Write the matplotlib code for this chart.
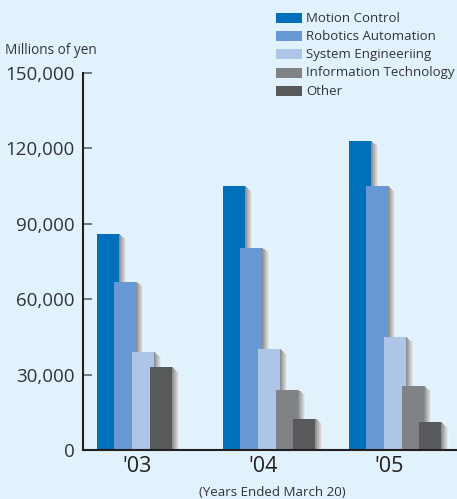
import numpy as np
import matplotlib
matplotlib.use("Agg")
import matplotlib.pyplot as plt
from matplotlib.colors import to_rgb

plt.rcParams['font.family'] = ['Open Sans', 'DejaVu Sans']

years = ["'03", "'04", "'05"]
segments = ["Motion Control", "Robotics Automation", "System Engineeriing",
            "Information Technology", "Other"]
motion_control = [86000, 105000, 123000]
robotics_automation = [67000, 80500, 105000]
system_engineering = [39000, 40000, 45000]
information_technology = [np.nan, 24000, 25500]
other = [33000, 12500, 11000]
series = [motion_control, robotics_automation, system_engineering,
          information_technology, other]
colors = ["#0070bb", "#6699d3", "#adc6e8", "#808285", "#58595b"]

yticks = [0, 30000, 60000, 90000, 120000, 150000]
bg = "#e1f2fc"
text_col = "#333335"

W, H = 457, 499
fig = plt.figure(figsize=(W / 100, H / 100), dpi=100, facecolor=bg)
ax_l, ax_b, ax_t = 83, 450, 73
ax = fig.add_axes([ax_l / W, (H - ax_b) / H, (W - ax_l) / W, (ax_b - ax_t) / H])
ax.set_facecolor(bg)

px_per_group = 126.0
xmin = -(137 - ax_l) / px_per_group
xmax = 2 + (W - 389) / px_per_group
ax.set_xlim(xmin, xmax)
ax.set_ylim(0, 150000)

gx = 1 / px_per_group           # one pixel in x data units
gy = 150000 / (ax_b - ax_t)     # one pixel in y data units
bar_w = 22 * gx
step = 17.7 * gx
first_off = -40.5 * gx

shadow_dark = np.array(to_rgb("#8d8e90"))
shadow_light = np.array(to_rgb("#eef3f5"))
n_strips = 8

for g in range(len(years)):
    slot = 0
    for s, vals in enumerate(series):
        v = vals[g]
        if np.isnan(v):
            continue
        left = g + first_off + slot * step
        # soft shadow on the right side of each bar
        for k in range(n_strips):
            t = k / (n_strips - 1)
            c = shadow_dark * (1 - t) + shadow_light * t
            drop = min(k, 5) * 0.9 * gy
            ax.bar(left + bar_w + k * gx, v - drop, width=gx * 1.05,
                   align='edge', color=c, linewidth=0, zorder=2 + slot)
        ax.bar(left, v, width=bar_w, align='edge', color=colors[s],
               linewidth=0, zorder=2.5 + slot)
        slot += 1

ax.set_xticks(range(len(years)))
ax.set_xticklabels(years, fontsize=15.5, color="#231f20")
ax.tick_params(axis='x', length=0, pad=4)
ax.set_yticks(yticks)
ax.set_yticklabels([f"{v:,}" for v in yticks], fontsize=13.5, color=text_col)
ax.tick_params(axis='y', direction='in', length=6.5, width=1.1,
               color="#555555", pad=6)

for side in ('top', 'right'):
    ax.spines[side].set_visible(False)
for side in ('left', 'bottom'):
    ax.spines[side].set_color("#231f20")
    ax.spines[side].set_linewidth(1.5)
    ax.spines[side].set_zorder(20)

fig.text(5 / W, 1 - 50 / H, "Millions of yen", fontsize=9.8, color=text_col,
         va='center', ha='left')
fig.text(272 / W, 1 - 492 / H, "(Years Ended March 20)", fontsize=9.6,
         color=text_col, va='center', ha='center')

# legend
for i, (name, col) in enumerate(zip(segments, colors)):
    top = 12.7 + i * 18.3
    fig.patches.append(plt.Rectangle((276 / W, 1 - (top + 10) / H), 26 / W, 10 / H,
                                     transform=fig.transFigure, color=col,
                                     linewidth=0))
    fig.text(306 / W, 1 - (top + 5.3) / H, name, fontsize=9.5, color=text_col,
             va='center', ha='left')

fig.savefig("out.png", dpi=100, facecolor=bg)
